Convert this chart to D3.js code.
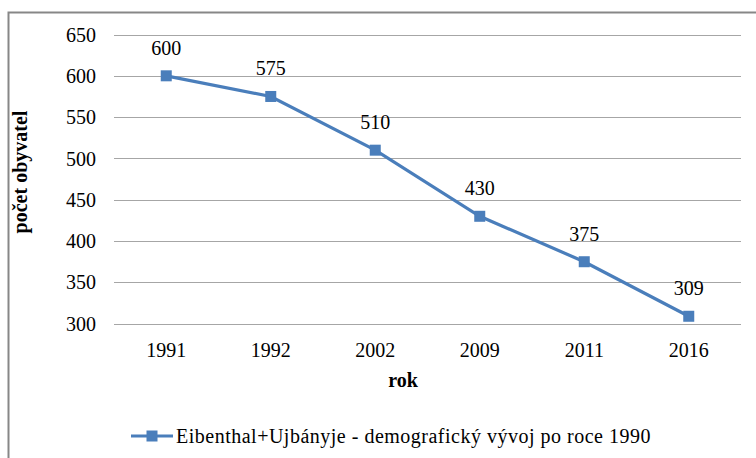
<!DOCTYPE html>
<html><head><meta charset="utf-8">
<script src="https://cdn.jsdelivr.net/npm/d3@7"></script>
<style>body{margin:0;background:#fff;font-family:'Liberation Serif'}#chart{width:756px;height:458px;overflow:hidden}svg text{font-family:'Liberation Serif'}</style>
</head><body>
<div id="chart"></div>
<script>
const years = ["1991","1992","2002","2009","2011","2016"];
const population = [600,575,510,430,375,309];
const yTicks = [300,350,400,450,500,550,600,650];
const seriesName = "Eibenthal+Ujbányje - demografický vývoj po roce 1990";

(function(){
const W=756,H=458;
const FONT="Liberation Serif";
const FS=20;
const svg=d3.select("#chart").append("svg").attr("width",W).attr("height",H).style("display","block");
svg.append("rect").attr("x",8.5).attr("y",12.5).attr("width",W+10).attr("height",H+10)
  .attr("fill","#fff").attr("stroke","#878787").attr("stroke-width",2);

const pLeft=114,pRight=741,pTop=34.5,pBottom=323.7;
const x=d3.scaleBand().domain(years).range([pLeft,pRight]);
const y=d3.scaleLinear().domain([300,650]).range([pBottom,pTop]);

const grid=svg.append("g");
grid.selectAll("line").data(yTicks).join("line")
  .attr("x1",pLeft).attr("x2",pRight).attr("y1",d=>Math.round(y(d))+0.5).attr("y2",d=>Math.round(y(d))+0.5)
  .attr("stroke","#a6a6a6").attr("stroke-width",1.2);

const yAxis=svg.append("g").attr("transform",`translate(${pLeft},0)`)
  .call(d3.axisLeft(y).tickValues(yTicks).tickSize(0).tickPadding(18));
yAxis.select(".domain").remove();
yAxis.attr("font-family",FONT).attr("font-size",FS);
yAxis.selectAll("text").attr("font-family",FONT).attr("font-size",FS).attr("fill","#000").attr("dy","0.33em");

const xAxis=svg.append("g").attr("transform",`translate(0,${pBottom})`)
  .call(d3.axisBottom(x).tickSize(0));
xAxis.select(".domain").remove();
xAxis.attr("font-family",FONT).attr("font-size",FS);
xAxis.selectAll("text").attr("font-family",FONT).attr("font-size",FS).attr("fill","#000").attr("y",33).attr("dy",0);

svg.append("text").attr("x",403).attr("y",387).attr("text-anchor","middle")
  .attr("font-family",FONT).attr("font-size",FS).attr("font-weight","bold").text("rok");
svg.append("text").attr("transform",`translate(27,172) rotate(-90)`).attr("text-anchor","middle")
  .attr("font-family",FONT).attr("font-size",FS).attr("font-weight","bold").text("počet obyvatel");

const color="#4a7ebb";
const cx=d=>x(d)+x.bandwidth()/2;
const line=d3.line().x((d,i)=>cx(years[i])).y(d=>y(d));
svg.append("path").datum(population).attr("d",line).attr("fill","none").attr("stroke",color).attr("stroke-width",3.2);
svg.selectAll(".m").data(population).join("rect")
  .attr("x",(d,i)=>cx(years[i])-5.5).attr("y",d=>y(d)-5.5).attr("width",11).attr("height",11).attr("fill",color);
svg.selectAll(".lbl").data(population).join("text")
  .attr("x",(d,i)=>cx(years[i])).attr("y",d=>y(d)-21).attr("text-anchor","middle")
  .attr("font-family",FONT).attr("font-size",FS).text(d=>d);

const lg=svg.append("g");
lg.append("line").attr("x1",131).attr("x2",173).attr("y1",436).attr("y2",436).attr("stroke",color).attr("stroke-width",3.2);
lg.append("rect").attr("x",146.5).attr("y",430.5).attr("width",11).attr("height",11).attr("fill",color);
lg.append("text").attr("x",176).attr("y",443).attr("font-family",FONT).attr("font-size",FS)
  .attr("letter-spacing","0.5").text(seriesName);
})();
</script>
</body></html>
